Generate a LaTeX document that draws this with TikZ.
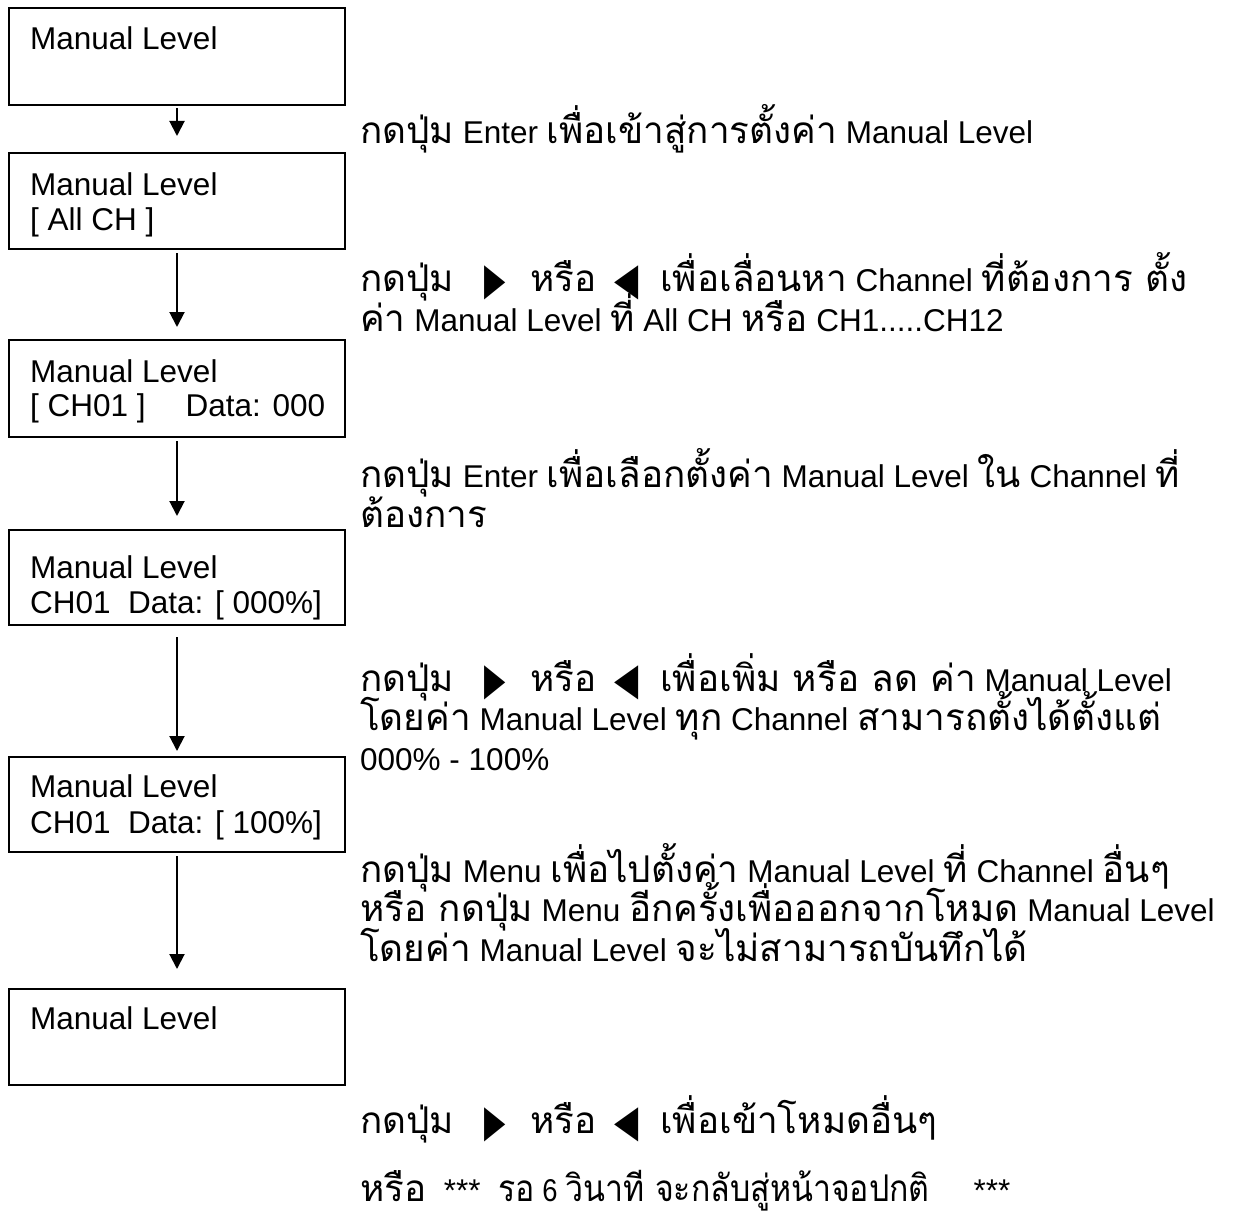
\documentclass[tikz,border=0pt]{standalone}
\usepackage{fontspec}
\usepackage{graphicx}
\setmainfont{Liberation Sans}
\newfontfamily\thf[Script=Thai,Scale=1.17]{Loma}
\newfontfamily\dvs{DejaVu Sans}
\usetikzlibrary{arrows.meta}
\newcommand\tx[1]{{\thf #1}}
\newcommand\rfont{\fontsize{31.5}{39.5}\selectfont\lineskiplimit=-100pt\relax}
\newcommand\RT{\makebox[20pt]{\raisebox{-3pt}{\scalebox{0.88}[1.42]{\dvs ▶}}}}
\newcommand\LT{\makebox[24pt]{\raisebox{-3pt}{\scalebox{1.0}[1.42]{\dvs ◀}}}}
\newcommand\btn{\tx{กดปุ่ม}\hspace{31pt}\RT\hspace{25pt}\tx{หรือ}\hspace{18pt}\LT\hspace{22pt}}
\begin{document}
\begin{tikzpicture}[x=1pt,y=-1pt,
  box/.style={draw, line width=2pt, minimum width=336pt, inner sep=0pt},
  btxt/.style={anchor=base west, inner sep=0pt, align=left},
  rtxt/.style={anchor=base west, inner sep=0pt, align=left, font=\rfont},
  arr/.style={line width=2pt, -{Triangle[width=15pt,length=15pt]}}]
\useasboundingbox (0,0) rectangle (1234,1212);
% boxes
\node[box, minimum height=97pt] (b1) at (177,56.5) {};
\node[box, minimum height=96pt] (b2) at (177,201) {};
\node[box, minimum height=97pt] (b3) at (177,388.5) {};
\node[box, minimum height=95pt] (b4) at (177,577.5) {};
\node[box, minimum height=95pt] (b5) at (177,804.5) {};
\node[box, minimum height=96pt] (b6) at (177,1037) {};
% box texts (anchored at the baseline of the last line)
\node[btxt, font=\fontsize{31.5}{30}\selectfont] (t1) at (30,50) {Manual Level};
\node[btxt, font=\fontsize{31.5}{35}\selectfont] (t2) at (30,230) {Manual Level\\{[} All CH ]};
\node[btxt, font=\fontsize{31.5}{34}\selectfont] (t3) at (30,416) {Manual Level\\{[} CH01 ]\hspace{40pt}Data: 000};
\node[btxt, font=\fontsize{31.5}{35}\selectfont] (t4) at (30,613) {Manual Level\\CH01~~Data: [ 000\%]};
\node[btxt, font=\fontsize{31.5}{36}\selectfont] (t5) at (30,833) {Manual Level\\CH01~~Data: [ 100\%]};
\node[btxt, font=\fontsize{31.5}{30}\selectfont] (t6) at (30,1029) {Manual Level};
% arrows
\draw[arr, shorten <=2pt, shorten >=16pt] (b1.south) -- (b2.north);
\draw[arr, shorten <=3pt, shorten >=12pt] (b2.south) -- (b3.north);
\draw[arr, shorten <=3pt, shorten >=13pt] (b3.south) -- (b4.north);
\draw[arr, shorten <=11pt, shorten >=5pt] (b4.south) -- (b5.north);
\draw[arr, shorten <=3pt, shorten >=19pt] (b5.south) -- (b6.north);
% right texts (anchored at the baseline of the last line)
\node[rtxt] (r1) at (360,144) {\tx{กดปุ่ม} Enter \tx{เพื่อเข้าสู่การตั้งค่า} Manual Level};
\node[rtxt] (r2) at (360,331) {\btn\tx{เพื่อเลื่อนหา} Channel \tx{ที่ต้องการ ตั้ง}\\\tx{ค่า} Manual Level \tx{ที่} All CH \tx{หรือ} CH1.....CH12};
\node[rtxt] (r3) at (360,527) {\tx{กดปุ่ม} Enter \tx{เพื่อเลือกตั้งค่า} Manual Level \tx{ใน} Channel \tx{ที่}\\\tx{ต้องการ}};
\node[rtxt] (r4) at (360,770) {\btn\tx{เพื่อเพิ่ม หรือ ลด ค่า} Manual Level\\\tx{โดยค่า} Manual Level \tx{ทุก} Channel \tx{สามารถตั้งได้ตั้งแต่}\\000\% - 100\%};
\node[rtxt] (r5) at (360,961) {\tx{กดปุ่ม} Menu \tx{เพื่อไปตั้งค่า} Manual Level \tx{ที่} Channel \tx{อื่นๆ}\\\tx{หรือ กดปุ่ม} Menu \tx{อีกครั้งเพื่อออกจากโหมด} Manual Level\\\tx{โดยค่า} Manual Level \tx{จะไม่สามารถบันทึกได้}};
\node[rtxt] (r6) at (360,1133) {\btn\tx{เพื่อเข้าโหมดอื่นๆ}};
\node[rtxt] (r7) at (360,1201) {\tx{หรือ}~~***~~\scalebox{0.87}[1]{\tx{รอ} 6 \tx{วินาที จะกลับสู่หน้าจอปกติ}}\hspace{44pt}***};
\end{tikzpicture}
\end{document}
